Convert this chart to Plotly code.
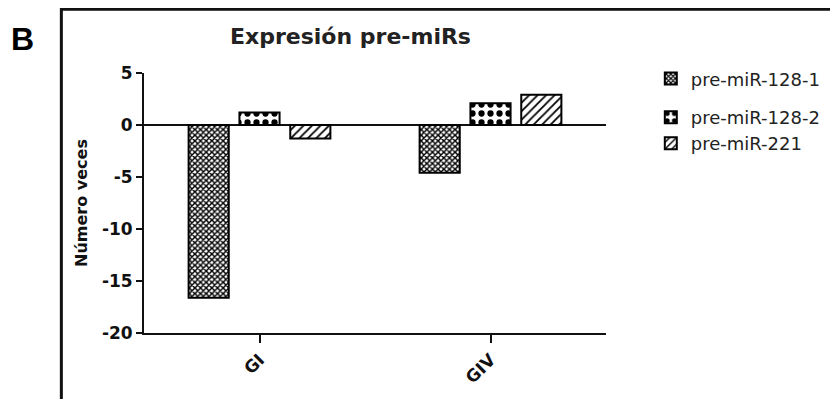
import plotly.graph_objects as go

categories = ["GI", "GIV"]
series_names = ["pre-miR-128-1", "pre-miR-128-2", "pre-miR-221"]
pre_mir_128_1 = [-16.6, -4.6]
pre_mir_128_2 = [1.2, 2.1]
pre_mir_221 = [-1.3, 2.9]
y_ticks = [5, 0, -5, -10, -15, -20]
y_ticktext = ["5", "0", "-5", "-10", "-15", "-20"]

values = [pre_mir_128_1, pre_mir_128_2, pre_mir_221]
patterns = [
    dict(shape="x", size=4, solidity=0.6, fgcolor="black", bgcolor="white", fgopacity=1),
    dict(shape=".", size=9, solidity=0.38, fgcolor="black", bgcolor="white", fgopacity=1),
    dict(shape="/", size=6, solidity=0.3, fgcolor="black", bgcolor="white", fgopacity=1),
]
legend_ids = ["legend", "legend2", "legend3"]

fig = go.Figure()
for name, vals, pat, lg in zip(series_names, values, patterns, legend_ids):
    fig.add_trace(go.Bar(
        x=categories, y=vals, name=name,
        marker=dict(color="white", pattern=pat, line=dict(color="black", width=2)),
        legend=lg,
    ))

OFF = 8  # page body margin
W, H = 838 - OFF, 399 - OFF
L, R, T, B = 144 - OFF, 230, 73 - OFF, 65 - OFF
pw, ph = W - L - R, H - T - B

def px2x(px):
    return (px - OFF - L) / pw

def py2y(py):
    return (H - B - (py - OFF)) / ph

fam = "DejaVu Sans"
legend_common = dict(font=dict(family=fam, size=18, color="#222"),
                     bgcolor="rgba(0,0,0,0)", xanchor="left", yanchor="middle")
tickfont = dict(family=fam, size=17, color="#111", weight="bold")

fig.update_layout(
    width=W, height=H,
    margin=dict(l=L, r=R, t=T, b=B, pad=0),
    paper_bgcolor="white", plot_bgcolor="white",
    barmode="group", bargap=0.34, bargroupgap=0.21,
    showlegend=True,
    legend=dict(x=px2x(653), y=py2y(79), **legend_common),
    legend2=dict(x=px2x(653), y=py2y(119), **legend_common),
    legend3=dict(x=px2x(653), y=py2y(146), **legend_common),
    font=dict(family=fam, color="#111"),
    xaxis=dict(
        range=[-0.5, 1.5], showline=True, linecolor="#111", linewidth=2,
        ticks="outside", ticklen=8, tickwidth=2, tickcolor="#111",
        tickangle=-45, tickfont=tickfont,
        showgrid=False, zeroline=False,
    ),
    yaxis=dict(
        range=[-20, 5], tickvals=y_ticks, ticktext=y_ticktext,
        showline=True, linecolor="#111", linewidth=2,
        ticks="outside", ticklen=6, tickwidth=2, tickcolor="#111",
        tickfont=tickfont,
        showgrid=False, zeroline=True, zerolinecolor="#111", zerolinewidth=2,
        title=dict(text="<b>Número veces</b>", font=dict(family=fam, size=16, color="#111"),
                   standoff=10),
    ),
    annotations=[
        dict(text="<b>Expresión pre-miRs</b>", xref="paper", yref="paper",
             x=px2x(351), y=py2y(35), xanchor="center", yanchor="middle",
             showarrow=False, font=dict(family=fam, size=22, color="#222")),
        dict(text="<b>B</b>", xref="paper", yref="paper",
             x=px2x(22), y=py2y(38), xanchor="center", yanchor="middle",
             showarrow=False, font=dict(family="Liberation Sans", size=32, color="#000")),
    ],
    shapes=[
        dict(type="rect", xref="paper", yref="paper",
             x0=px2x(61), x1=px2x(900), y0=py2y(450), y1=py2y(7),
             line=dict(color="#111", width=3), fillcolor="rgba(0,0,0,0)", layer="below"),
    ],
)

fig.write_html("out.html")
